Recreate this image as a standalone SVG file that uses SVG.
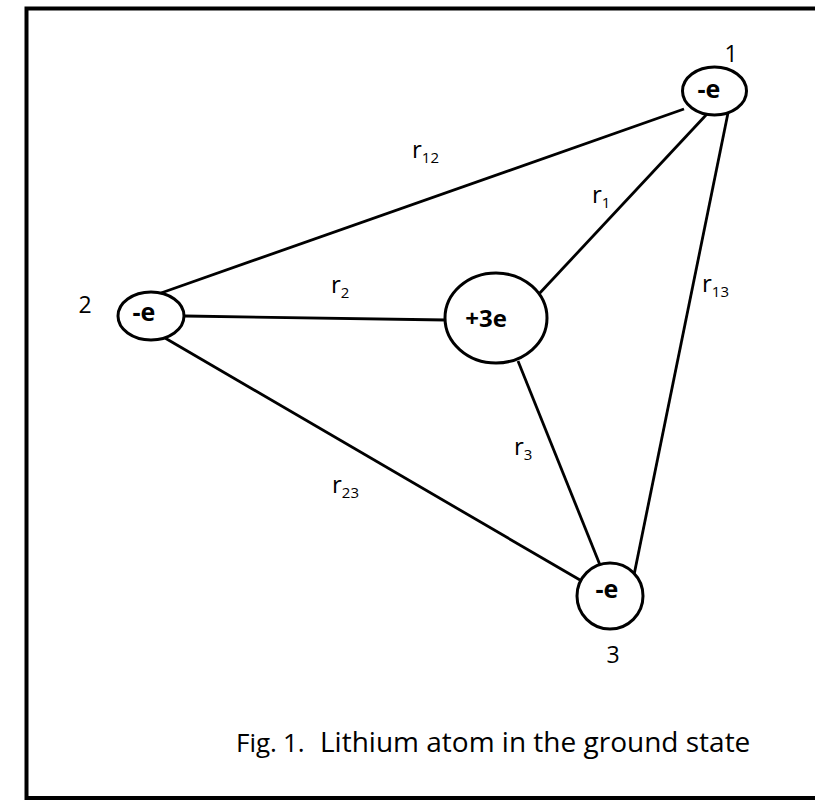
<svg xmlns="http://www.w3.org/2000/svg" width="815" height="800" viewBox="0 0 815 800">
<style>
.frame{fill:none;stroke:#000;stroke-width:4}
.node{fill:#fff;stroke:#000;stroke-width:3}
.con{stroke:#000;stroke-width:2.8;fill:none}
.q{font-family:"Open Sans","Liberation Sans",sans-serif;font-weight:bold;font-size:25px;text-anchor:middle}
.lab{font-family:"Open Sans","Liberation Sans",sans-serif;font-size:24px}
.sub{font-size:15px}
.num{font-family:"Open Sans","Liberation Sans",sans-serif;font-size:23px;text-anchor:middle}
.cap{font-family:"Open Sans","Liberation Sans",sans-serif;font-size:26px}
</style>
<rect width="815" height="800" fill="#fff"/>
<path class="frame" d="M817 8.5 H26.5 V798 H817"/>
<g id="connectors">
<line class="con" x1="161" y1="293" x2="684" y2="109"/>
<line class="con" x1="185" y1="316" x2="446" y2="320"/>
<line class="con" x1="538" y1="295" x2="707" y2="114"/>
<line class="con" x1="728" y1="113" x2="634" y2="575"/>
<line class="con" x1="518" y1="361" x2="600" y2="565"/>
<line class="con" x1="165" y1="338" x2="580" y2="580"/>
</g>
<g id="labels">
<text class="lab" x="412" y="158">r<tspan class="sub" dy="5">12</tspan></text>
<text class="lab" x="592" y="203">r<tspan class="sub" dy="5">1</tspan></text>
<text class="lab" x="702" y="292">r<tspan class="sub" dy="5">13</tspan></text>
<text class="lab" x="331" y="293">r<tspan class="sub" dy="5">2</tspan></text>
<text class="lab" x="514" y="455">r<tspan class="sub" dy="5">3</tspan></text>
<text class="lab" x="332" y="493">r<tspan class="sub" dy="5">23</tspan></text>
</g>
<g id="e1">
<ellipse class="node" cx="714.5" cy="91" rx="32" ry="24"/>
<text class="q" x="709" y="98">-e</text>
<text class="num" x="731" y="62">1</text>
</g>
<g id="e2">
<ellipse class="node" cx="151" cy="316" rx="33" ry="24"/>
<text class="q" x="144" y="321">-e</text>
<text class="num" x="85" y="313">2</text>
</g>
<g id="nucleus">
<ellipse class="node" cx="496" cy="318" rx="51" ry="45"/>
<text class="q" x="486" y="327" style="font-size:24px">+3e</text>
</g>
<g id="e3">
<ellipse class="node" cx="610" cy="596" rx="33" ry="33"/>
<text class="q" x="607" y="598">-e</text>
<text class="num" x="613" y="663">3</text>
</g>
<text class="cap" y="752"><tspan x="236">Fig.</tspan><tspan x="283">1.</tspan><tspan x="320" style="font-size:28px">Lithium atom in the ground state</tspan></text>
</svg>
